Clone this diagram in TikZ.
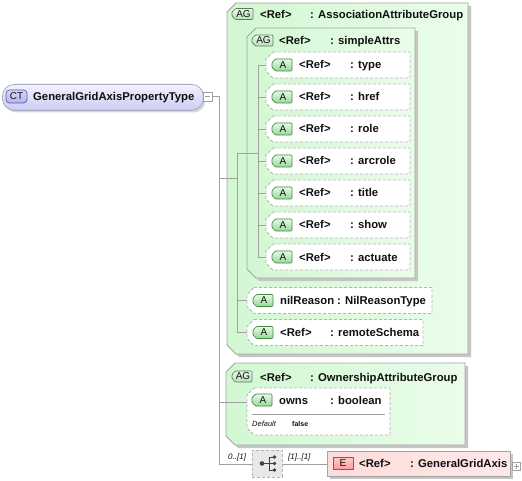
\documentclass[tikz,border=0pt]{standalone}
\usepackage{fontspec}
\setmainfont{Liberation Sans}
\usetikzlibrary{calc}
\definecolor{grpb}{HTML}{A4A4A4}
\definecolor{shad}{HTML}{C6C6C6}
\definecolor{grpL}{HTML}{D2F7D2}
\definecolor{grpR}{HTML}{EAFDEA}
\definecolor{attrb}{HTML}{B4B4B4}
\definecolor{lineg}{HTML}{A0A0A0}
\definecolor{abT}{HTML}{E6FAE6}
\definecolor{abB}{HTML}{98D898}
\definecolor{abD}{HTML}{3C8C3C}
\definecolor{agT}{HTML}{EAF8EA}
\definecolor{agB}{HTML}{B8E2B8}
\definecolor{agD}{HTML}{5C7C5C}
\definecolor{ctT}{HTML}{F2F2FF}
\definecolor{ctB}{HTML}{CCCCF0}
\definecolor{ctD}{HTML}{A8A8C4}
\definecolor{ctbT}{HTML}{D8D8FA}
\definecolor{ctbB}{HTML}{B4B4EE}
\definecolor{ctbD}{HTML}{5A5AA8}
\definecolor{eL}{HTML}{FCDCDC}
\definecolor{eR}{HTML}{FFE8E8}
\definecolor{ebT}{HTML}{FFC8C8}
\definecolor{ebB}{HTML}{FF9C9C}
\definecolor{ebD}{HTML}{B04848}
\definecolor{seqf}{HTML}{E8E8E8}
\definecolor{txt}{HTML}{101010}
\definecolor{icon}{HTML}{404040}
\newcommand\chpath[5]{({#1+#5},{#2}) -- ({#3},{#2}) -- ({#3},{#4}) -- ({#1+#5},{#4}) -- ({#1},{#4-#5}) -- ({#1},{#2+#5}) -- cycle}
\tikzset{
  lbl/.style={anchor=base west, inner sep=0pt, font=\fontsize{11.3}{13}\bfseries, text=txt},
  card/.style={anchor=base west, inner sep=0pt, font=\fontsize{8}{9}\itshape, text=txt},
  conn/.style={draw=lineg, line width=0.8pt},
  grpshape/.style={draw=grpb, line width=0.8pt, left color=grpL, right color=grpR},
  shadowshape/.style={fill=shad},
  attrshape/.style={draw=attrb, dash pattern=on 3pt off 2pt, line width=0.8pt, fill=white},
  abadge/.style={draw=abD, line width=0.7pt, top color=abT, bottom color=abB},
  agbadge/.style={draw=agD, line width=0.7pt, top color=agT, bottom color=agB},
  badgetext/.style={inner sep=0pt, font=\fontsize{10}{12}\selectfont, text=txt},
}
\newcommand\tagbadge[7]{%
  \path[#1, rounded corners=1pt] ({#3+3.5},{#4}) -- ({#5},{#4}) -- ({#5},{#6}) -- ({#3+3.5},{#6}) -- ({#3},{#6-3.5}) -- ({#3},{#4+3.5}) -- cycle;
  \node[badgetext] (#2) at ({(#3+#5)/2+1},{(#4+#6)/2}) {#7};}
\newcommand\attrrow[7]{%
  \path[attrshape] \chpath{#2}{#3-13}{#4}{#3+13}{7};
  \coordinate (#1) at (#2,#3);
  \tagbadge{abadge}{#1-b}{#2+6}{#3-6}{#2+26}{#3+6}{A}
  \node[lbl] (#1-n) at ({#2+33},{#3+4}) {#5};
  \node[lbl] (#1-t) at ({#6},{#3+4}) {#7};}
\newcommand\groupbox[5]{%
  \path[shadowshape] \chpath{#1+3}{#2+3}{#3+3}{#4+3}{#5};
  \path[grpshape] \chpath{#1}{#2}{#3}{#4}{#5};}
\begin{document}
\begin{tikzpicture}[x=1pt,y=-1pt]
\useasboundingbox (0,0) rectangle (522,481);
\fill[white] (0,0) rectangle (522,481);

% ---- complex type
\fill[shad!70, rounded corners=12pt] (4.5,86.5) rectangle (205.5,112.5);
\node[draw=ctD, line width=0.8pt, top color=ctT, bottom color=ctB, rounded corners=12pt,
      minimum width=201pt, minimum height=26pt, inner sep=0pt, anchor=north west] (ct) at (2,84) {};
\path[draw=ctbD, line width=0.7pt, top color=ctbT, bottom color=ctbB, rounded corners=3.5pt] (6,90) rectangle (27,103);
\node[badgetext] (ctb) at (16.5,96.5) {CT};
\node[lbl] (ctname) at (33,100.5) {GeneralGridAxisPropertyType};
\node[draw=lineg, fill=white, minimum size=9pt, inner sep=0pt] (minus) at (207.5,96.5) {};
\draw[lineg, line width=0.8pt] ($(minus.center)+(-2.5,0)$) -- ($(minus.center)+(2.5,0)$);

% ---- group boxes
\groupbox{227}{3}{468}{354}{9}
\groupbox{247}{28}{415}{278}{9}
\groupbox{226}{363}{465}{445}{9}

% ---- group headers
\tagbadge{agbadge}{assoc-b}{232}{8.5}{253}{19.5}{AG}
\node[lbl] (assoc-n) at (260,18.5) {<Ref>};
\node[lbl] (assoc-t) at (310,18.5) {: AssociationAttributeGroup};
\tagbadge{agbadge}{sa-b}{252}{35}{273}{46}{AG}
\node[lbl] (sa-n) at (279,45) {<Ref>};
\node[lbl] (sa-t) at (330,45) {: simpleAttrs};
\tagbadge{agbadge}{own-b}{232}{371}{252}{382}{AG}
\node[lbl] (own-n) at (260,381) {<Ref>};
\node[lbl] (own-t) at (310,381) {: OwnershipAttributeGroup};

% ---- sequence and element
\node[draw=attrb, dash pattern=on 3pt off 2pt, line width=0.8pt, fill=seqf,
      minimum width=30pt, minimum height=27pt, inner sep=0pt, anchor=north west] (seq) at (252,450) {};
\fill[shad] (330,454) rectangle (513,479);
\node[draw=grpb, line width=0.8pt, left color=eL, right color=eR,
      minimum width=183pt, minimum height=25pt, inner sep=0pt, anchor=north west] (elem) at (327,451) {};
\path[draw=ebD, line width=0.7pt, top color=ebT, bottom color=ebB] (333,457.5) rectangle (353,469.5);
\node[badgetext] (elem-b) at (343,463.5) {E};
\node[lbl] (elem-n) at (359,467.5) {<Ref>};
\node[lbl] (elem-t) at (410,467.5) {: GeneralGridAxis};
\node[draw=lineg, fill=white, minimum size=8pt, inner sep=0pt] (plus) at (516.5,466) {};
\draw[lineg, line width=0.6pt] ($(plus.center)+(-2.5,0)$) -- ($(plus.center)+(2.5,0)$)
  ($(plus.center)+(0,-2.5)$) -- ($(plus.center)+(0,2.5)$);
% sequence icon
\coordinate (s0) at (262,463.5);
\coordinate (s1) at (269,463.5);
\coordinate (sa1) at (274.5,457);
\coordinate (sa2) at (274.5,463.5);
\coordinate (sa3) at (274.5,470);
\draw[icon, line width=0.8pt] (s0) -- (s1) (s1 |- sa1) -- (s1 |- sa3)
  (s1 |- sa1) -- (sa1) (s1) -- (sa2) (s1 |- sa3) -- (sa3);
\fill[icon] (s0) circle (2.3pt) (sa1) circle (1.9pt) (sa2) circle (1.9pt) (sa3) circle (1.9pt);

% ---- connectors
\coordinate (trunk) at (219,96.5);
\coordinate (assocj) at (237,178.5);
\coordinate (saj) at (258,153);
\draw[conn] (minus.east) -- (trunk) -- (trunk |- seq.west) -- (seq.west);
\draw[conn] (seq.east) -- (elem.west |- seq.east);
\draw[conn] (trunk |- assocj) -- (assocj);
\draw[conn] (assocj |- saj) -- (assocj |- 0,332.5);
\draw[conn] (assocj |- saj) -- (saj);
\draw[conn] (saj |- 0,65) -- (saj |- 0,257);
\coordinate (owns) at (247,402);
\draw[conn] (trunk |- owns) -- (owns);

% ---- simpleAttrs attributes
\attrrow{type}{266}{65}{410}{<Ref>}{350}{: type}
\attrrow{href}{266}{97}{410}{<Ref>}{350}{: href}
\attrrow{role}{266}{129}{410}{<Ref>}{350}{: role}
\attrrow{arcrole}{266}{161}{410}{<Ref>}{350}{: arcrole}
\attrrow{title}{266}{193}{410}{<Ref>}{350}{: title}
\attrrow{show}{266}{225}{410}{<Ref>}{350}{: show}
\attrrow{actuate}{266}{257}{410}{<Ref>}{350}{: actuate}
\foreach \a in {type,href,role,arcrole,title,show,actuate}{
  \draw[conn] (saj |- \a) -- (\a);
}
% ---- other attributes
\attrrow{nil}{247}{300.5}{432}{nilReason}{337}{: NilReasonType}
\attrrow{remote}{247}{332.5}{423}{<Ref>}{330}{: remoteSchema}
\draw[conn] (assocj |- nil) -- (nil);
\draw[conn] (assocj |- remote) -- (remote);

% ---- owns attribute
\path[attrshape] \chpath{247}{388}{390}{435}{7};
\tagbadge{abadge}{owns-b}{252}{394}{272}{406}{A}
\node[lbl] (owns-n) at (279,404) {owns};
\node[lbl] (owns-t) at (330,404) {: boolean};
\draw[lineg, line width=0.8pt] (252,414.5) -- (385,414.5);
\node[anchor=base west, inner sep=0pt, font=\fontsize{7.5}{9}\itshape, text=txt] (owns-d) at (252,426.5) {Default};
\node[anchor=base west, inner sep=0pt, font=\fontsize{7}{9}\bfseries, text=txt] (owns-v) at (292,426.5) {false};

% ---- cardinalities
\node[card] (c1) at (228,459) {0..[1]};
\node[card] (c2) at (288,459) {[1]..[1]};
\end{tikzpicture}
\end{document}
